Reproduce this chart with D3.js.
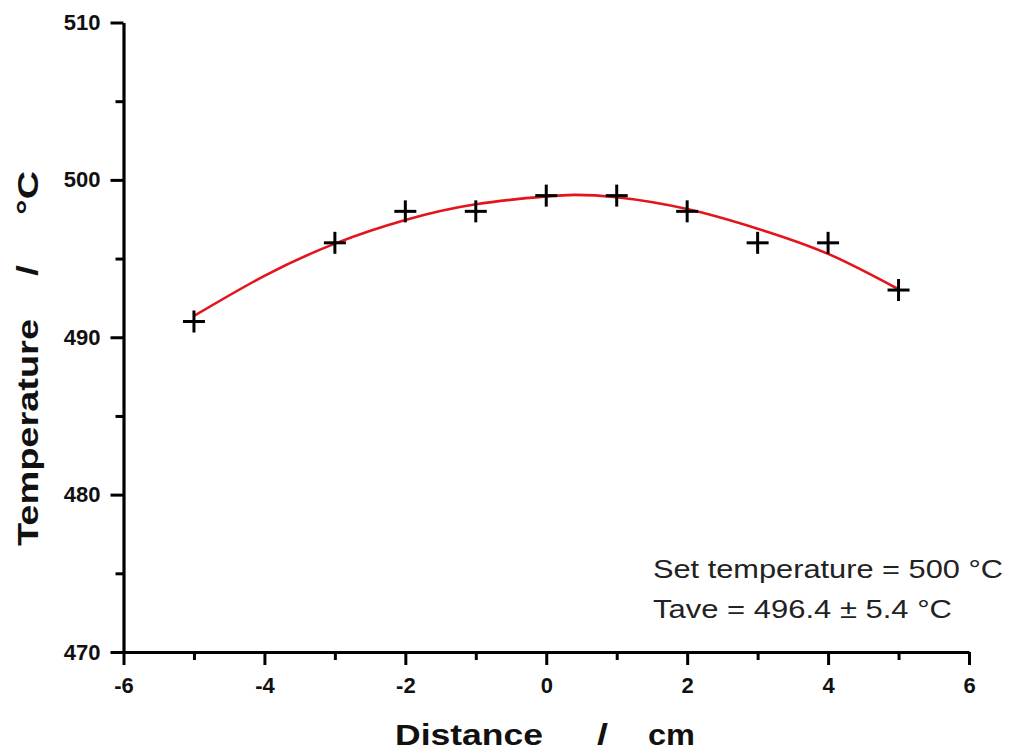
<!DOCTYPE html>
<html>
<head>
<meta charset="utf-8">
<script src="https://cdn.jsdelivr.net/npm/d3@7"></script>
<style>
  html, body { margin: 0; padding: 0; background: #fff; }
  svg { display: block; }
</style>
</head>
<body>
<svg id="chart" width="1010" height="752"></svg>
<script>
// ---- data ----
const distance = [-5, -3, -2, -1, 0, 1, 2, 3, 4, 5];
const temperature = [491, 496, 498, 498, 499, 499, 498, 496, 496, 493];
// fitted curve
const fitX = [-5, -4, -3, -2, -1, 0, 0.4, 1, 2, 3, 4, 5];
const fitY = [491.35, 493.9, 495.95, 497.45, 498.45, 498.95, 499.05, 498.9, 498.15, 496.9, 495.3, 493.05];
const xMajor = [-6, -4, -2, 0, 2, 4, 6];
const xMinor = [-5, -3, -1, 1, 3, 5];
const yMajor = [470, 480, 490, 500, 510];
const yMinor = [475, 485, 495, 505];
const annotations = ["Set temperature = 500 \u00B0C", "Tave = 496.4 \u00B1 5.4 \u00B0C"];

const svg = d3.select("#chart");
const x = d3.scaleLinear().domain([-6, 6]).range([123.5, 969]);
const y = d3.scaleLinear().domain([470, 510]).range([652, 22.5]);

const axisFont = "Arial, 'Liberation Sans', sans-serif";

// minor ticks
svg.append("g").attr("transform", `translate(0,${y(470)})`)
  .call(d3.axisBottom(x).tickValues(xMinor).tickSize(8).tickFormat(""))
  .call(g => g.select(".domain").remove())
  .call(g => g.selectAll("line").attr("stroke", "#000").attr("stroke-width", 3));
svg.append("g").attr("transform", `translate(${x(-6)},0)`)
  .call(d3.axisLeft(y).tickValues(yMinor).tickSize(8).tickFormat(""))
  .call(g => g.select(".domain").remove())
  .call(g => g.selectAll("line").attr("stroke", "#000").attr("stroke-width", 3));

// major axes
const gx = svg.append("g").attr("transform", `translate(0,${y(470)})`)
  .call(d3.axisBottom(x).tickValues(xMajor).tickSize(13).tickSizeOuter(0).tickPadding(10).tickFormat(d => String(d)));
const gy = svg.append("g").attr("transform", `translate(${x(-6)},0)`)
  .call(d3.axisLeft(y).tickValues(yMajor).tickSize(13).tickSizeOuter(0).tickPadding(10).tickFormat(d => String(d)));
[gx, gy].forEach(g => {
  g.attr("font-size", null).attr("font-family", null);
  g.select(".domain").attr("stroke", "#000").attr("stroke-width", 3.2);
  g.selectAll(".tick line").attr("stroke", "#000").attr("stroke-width", 3);
  g.selectAll(".tick text").attr("fill", "#111")
    .style("font-family", axisFont).style("font-weight", "bold").style("font-size", "22px");
});
gx.selectAll(".tick text").attr("dy", "0.8em");

// fit curve
const line = d3.line().x(d => x(d[0])).y(d => y(d[1])).curve(d3.curveNatural);
svg.append("path")
  .datum(fitX.map((v, i) => [v, fitY[i]]))
  .attr("d", line)
  .attr("fill", "none")
  .attr("stroke", "#e3141c")
  .attr("stroke-width", 2.6);

// plus markers
const half = 11;
const pts = svg.append("g").selectAll("g")
  .data(distance.map((v, i) => [v, temperature[i]]))
  .join("g")
  .attr("transform", d => `translate(${x(d[0])},${y(d[1])})`);
pts.append("line").attr("x1", -half).attr("x2", half).attr("y1", 0).attr("y2", 0)
  .attr("stroke", "#000").attr("stroke-width", 3);
pts.append("line").attr("x1", 0).attr("x2", 0).attr("y1", -half).attr("y2", half)
  .attr("stroke", "#000").attr("stroke-width", 3);

// annotations
const ann = svg.append("g").style("font-family", axisFont).style("font-size", "25px").attr("fill", "#222");
ann.append("text").attr("x", 653).attr("y", 578).attr("textLength", 350)
  .attr("lengthAdjust", "spacingAndGlyphs").text(annotations[0]);
ann.append("text").attr("x", 653).attr("y", 618).attr("textLength", 299)
  .attr("lengthAdjust", "spacingAndGlyphs").text(annotations[1]);

// axis titles
function addText(parent, txt, attrs, len) {
  const t = parent.append("text").text(txt)
    .style("font-family", axisFont).style("font-weight", "bold").style("font-size", "29px").attr("fill", "#111");
  Object.entries(attrs).forEach(([k, v]) => t.attr(k, v));
  if (len) t.attr("textLength", len).attr("lengthAdjust", "spacingAndGlyphs");
  return t;
}
addText(svg, "Distance", { x: 395, y: 745 }, 148);
addText(svg, "/", { x: 597, y: 745 }, 11);
addText(svg, "cm", { x: 648, y: 745 }, 47);

const gyt = svg.append("g").attr("transform", "translate(38,0) rotate(-90)");
addText(gyt, "Temperature", { x: -546, y: 0 }, 227);
addText(gyt, "/", { x: -276, y: 0 }, 11);
addText(gyt, "\u00B0C", { x: -215, y: 0 }, 44);
</script>
</body>
</html>
